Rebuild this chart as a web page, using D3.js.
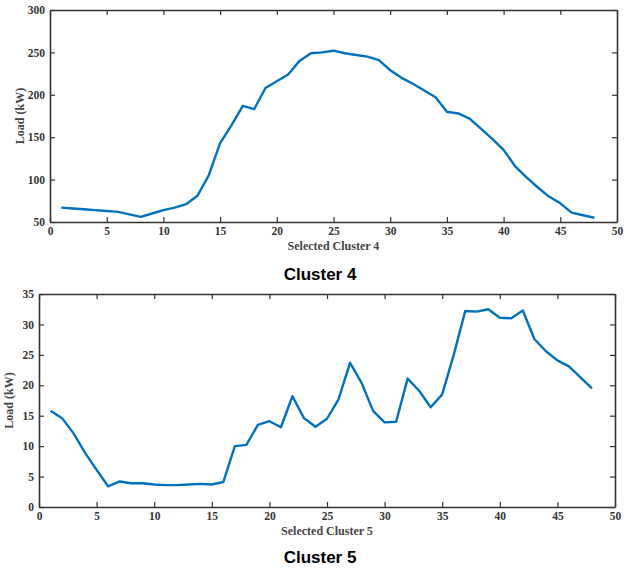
<!DOCTYPE html>
<html>
<head>
<meta charset="utf-8">
<script src="https://cdn.jsdelivr.net/npm/d3@7"></script>
<style>
  body { margin: 0; background: #fff; }
  .tick text { font-family: "Liberation Serif", "Times New Roman", serif; font-weight: bold; fill: #333; }
  .domain, .tick line { stroke: #333; }
</style>
</head>
<body>
<svg id="chart" width="635" height="569"></svg>
<script>
// slot index 1..48
var slots = d3.range(1, 49);

// Cluster 4 load (kW)
var cluster4 = [67, 66, 65, 64, 63, 62, 59, 56, 60, 64,
                67, 71, 81, 105, 143, 164, 187, 183, 208, 216,
                224, 240, 249, 250, 252, 249, 247, 245, 241, 229,
                220, 213, 205, 197, 180, 178, 172, 160, 148, 135,
                116, 103, 91, 80, 72, 61, 58, 55];

// Cluster 5 load (kW)
var cluster5 = [15.8, 14.6, 12.1, 8.9, 6.1, 3.4, 4.2, 3.9, 3.9, 3.7,
                3.6, 3.6, 3.7, 3.8, 3.7, 4.1, 10.0, 10.2, 13.5, 14.1,
                13.1, 18.2, 14.6, 13.2, 14.5, 17.7, 23.7, 20.4, 15.8, 13.9,
                14.0, 21.1, 19.1, 16.4, 18.5, 25.0, 32.2, 32.1, 32.5, 31.1,
                31.0, 32.3, 27.6, 25.6, 24.1, 23.1, 21.3, 19.5];

var xTicks = [0, 5, 10, 15, 20, 25, 30, 35, 40, 45, 50];
var yTicks4 = [50, 100, 150, 200, 250, 300];
var yTicks5 = [0, 5, 10, 15, 20, 25, 30, 35];

var svg = d3.select("#chart");

/**
* Draws one framed line panel with inward ticks on all four sides
*/
function drawPanel(box, values, yDomain, yTicks, xLabel, title){
    var x = d3.scaleLinear().domain([0, 50]).range([box.left, box.right]);
    var y = d3.scaleLinear().domain(yDomain).range([box.bottom, box.top]);
    var g = svg.append("g");

    g.append("g")
        .attr("transform", "translate(0," + box.bottom + ")")
        .call(d3.axisBottom(x).tickValues(xTicks).tickSizeInner(-5).tickSizeOuter(0).tickPadding(5));
    g.append("g")
        .attr("transform", "translate(0," + box.top + ")")
        .call(d3.axisTop(x).tickValues(xTicks).tickSizeInner(-5).tickSizeOuter(0).tickFormat(""));
    g.append("g")
        .attr("transform", "translate(" + box.left + ",0)")
        .call(d3.axisLeft(y).tickValues(yTicks).tickSizeInner(-5).tickSizeOuter(0).tickPadding(5));
    g.append("g")
        .attr("transform", "translate(" + box.right + ",0)")
        .call(d3.axisRight(y).tickValues(yTicks).tickSizeInner(-5).tickSizeOuter(0).tickFormat(""));

    g.selectAll(".tick text").style("font-size", "11.5px");
    g.selectAll(".domain").attr("stroke-width", 1.6);
    g.selectAll(".tick line").attr("stroke-width", 1.2);

    var line = d3.line()
        .x(function(d, i){ return x(slots[i]); })
        .y(function(d){ return y(d); });

    g.append("path")
        .datum(values)
        .attr("d", line)
        .attr("fill", "none")
        .attr("stroke", "#0072BD")
        .attr("stroke-width", 2.4)
        .attr("stroke-linejoin", "round");

    //axis labels
    g.append("text")
        .attr("x", (box.left + box.right) / 2)
        .attr("y", box.bottom + 28)
        .attr("text-anchor", "middle")
        .style("font-family", "'Liberation Serif', serif")
        .style("font-weight", "bold")
        .style("font-size", "12px")
        .style("fill", "#444")
        .text(xLabel);

    g.append("text")
        .attr("transform", "translate(" + (box.left - 26) + "," + ((box.top + box.bottom) / 2) + ") rotate(-90)")
        .attr("text-anchor", "middle")
        .style("font-family", "'Liberation Serif', serif")
        .style("font-weight", "bold")
        .style("font-size", "12px")
        .style("fill", "#444")
        .text("Load (kW)");

    g.append("text")
        .attr("x", 320)
        .attr("y", box.titleY)
        .attr("text-anchor", "middle")
        .style("font-family", "'Liberation Sans', Arial, sans-serif")
        .style("font-weight", "bold")
        .style("font-size", "17px")
        .style("fill", "#000")
        .text(title);
}

drawPanel({left: 50, right: 617, top: 10, bottom: 222, titleY: 280},
    cluster4, [50, 300], yTicks4, "Selected Cluster 4", "Cluster 4");
drawPanel({left: 39, right: 615, top: 294, bottom: 507, titleY: 563},
    cluster5, [0, 35], yTicks5, "Selected Cluster 5", "Cluster 5");
</script>
</body>
</html>
